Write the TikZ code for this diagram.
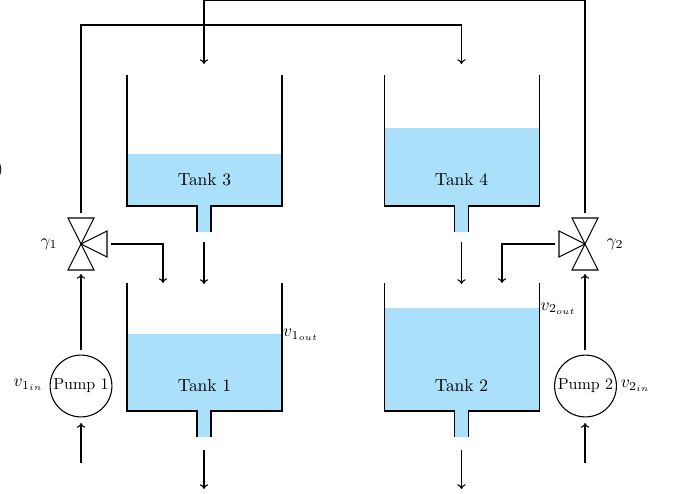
\documentclass[tikz,border=0pt]{standalone}
\usepackage{graphicx}
\usetikzlibrary{arrows.meta}
\definecolor{water}{RGB}{170,224,250}
\tikzset{
  >={Computer Modern Rightarrow[width=4.6pt,length=2.6pt]},
  wall/.style={draw=black,line width=0.6pt},
  flow/.style={black,line width=0.6pt},
  flowarrow/.style={flow,->},
  valvepart/.style={draw=black,line width=0.6pt,line join=miter},
  pumpnode/.style={circle,draw=black,line width=0.6pt,minimum size=34pt,inner sep=0pt},
  lab/.style={inner sep=0pt}
}
\newcommand{\ts}[1]{\scalebox{0.96}{#1}}
\newcommand{\ps}[1]{\scalebox{0.88}{#1}}
% tank: #1 left x, #2 top y, #3 water y, #4 name, #5 bottom height
\newcommand{\tanksketch}[5]{%
  \fill[water] (#1,#3) -- (#1+155,#3) -- (#1+155,#2+#5) -- (#1+84,#2+#5) -- (#1+84,#2+#5+26) -- (#1+70,#2+#5+26) -- (#1+70,#2+#5) -- (#1,#2+#5) -- cycle;
  \draw[wall] (#1,#2) -- (#1,#2+#5) -- (#1+70,#2+#5) -- (#1+70,#2+#5+26);
  \draw[wall] (#1+84,#2+#5+26) -- (#1+84,#2+#5) -- (#1+155,#2+#5) -- (#1+155,#2);
  \coordinate (#4in) at (#1+77,#2-11);
  \coordinate (#4out) at (#1+77,#2+#5+39);
}
\begin{document}
\begin{tikzpicture}[x=0.55pt,y=-0.55pt]
\useasboundingbox (0,0) rectangle (673,493);
\clip (0,0) rectangle (673,493);
\tanksketch{127}{75}{154}{t3}{131}
\tanksketch{384.5}{75}{128}{t4}{131}
\tanksketch{127}{283}{334}{t1}{128}
\tanksketch{384.5}{283}{308}{t2}{128}
\node[lab] (n3) at (204.5,180) {\ts{Tank 3}};
\node[lab] (n4) at (461.5,180) {\ts{Tank 4}};
\node[lab] (n1) at (204.5,386) {\ts{Tank 1}};
\node[lab] (n2) at (461.5,386) {\ts{Tank 2}};
\node[pumpnode] (p1) at (81,386) {\ps{Pump 1}};
\node[pumpnode] (p2) at (585.5,386) {\ps{Pump 2}};
\node[lab] (lp1) at (28.5,385) {\ts{$v_{1_{in}}$}};
\node[lab] (lp2) at (635.5,386) {\ts{$v_{2_{in}}$}};
\node[lab] (lo1) at (301,335) {\ts{$v_{1_{out}}$}};
\node[lab] (lo2) at (558.5,308.5) {\ts{$v_{2_{out}}$}};
\node[lab] (g1) at (49,244) {\ts{$\gamma_1$}};
\node[lab] (g2) at (615,244) {\ts{$\gamma_2$}};
\node[lab,anchor=east] (cut) at (3.5,170) {)};
% valves
\coordinate (v1) at (81,244);
\coordinate (v2) at (585,244);
\draw[valvepart] (v1) -- (68,218) -- (94,218) -- cycle;
\draw[valvepart] (v1) -- (68,270) -- (94,270) -- cycle;
\draw[valvepart] (v1) -- (107,231) -- (107,257) -- cycle;
\draw[valvepart] (v2) -- (572,218) -- (598,218) -- cycle;
\draw[valvepart] (v2) -- (572,270) -- (598,270) -- cycle;
\draw[valvepart] (v2) -- (559,231) -- (559,257) -- cycle;
% free ends
\coordinate (v1top) at (81,213);
\coordinate (v2top) at (585,213);
\coordinate (v1bot) at (81,274);
\coordinate (v2bot) at (585,274);
\coordinate (v1side) at (111,244);
\coordinate (v2side) at (555,244);
\coordinate (t1side) at (163,283);
\coordinate (t2side) at (502,283);
\coordinate (p1up) at (81,350);
\coordinate (p2up) at (585,350);
\coordinate (p1dn) at (81,423);
\coordinate (p2dn) at (585,423);
\coordinate (p1in) at (81,463);
\coordinate (p2in) at (585,463);
\coordinate (t3top) at (204,0);
\coordinate (t4top) at (461.5,25);
\coordinate (t1fr) at (204,242);
\coordinate (t2fr) at (461.5,242);
\coordinate (t1to) at (204,284);
\coordinate (t2to) at (461.5,284);
\coordinate (t1end) at (204,489);
\coordinate (t2end) at (461.5,489);
% connectors
\draw[flow] (v1top) |- (t4top);
\draw[flowarrow] (t4top) -- (t4in);
\draw[flow] (v2top) |- (t3top);
\draw[flowarrow] (t3top) -- (t3in);
\draw[flowarrow] (p1up) -- (v1bot);
\draw[flowarrow] (p2up) -- (v2bot);
\draw[flowarrow] (p1in) -- (p1dn);
\draw[flowarrow] (p2in) -- (p2dn);
\draw[flowarrow] (v1side) -| (t1side);
\draw[flowarrow] (v2side) -| (t2side);
\draw[flowarrow] (t1fr) -- (t1to);
\draw[flowarrow] (t2fr) -- (t2to);
\draw[flowarrow] (t1out) -- (t1end);
\draw[flowarrow] (t2out) -- (t2end);
\end{tikzpicture}
\end{document}
